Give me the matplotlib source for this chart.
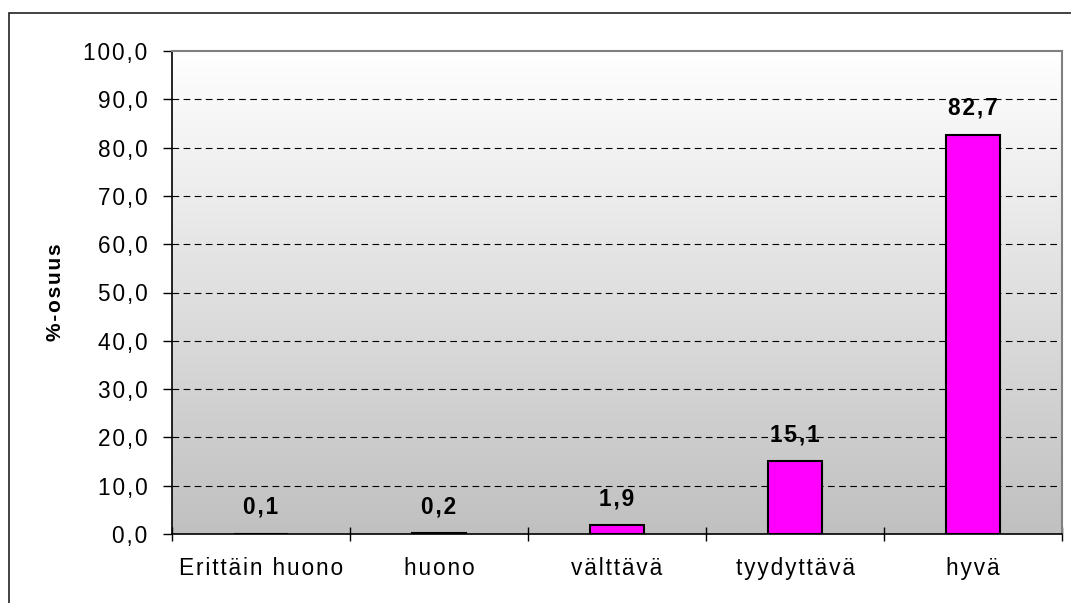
import numpy as np
import matplotlib.pyplot as plt
from matplotlib.colors import LinearSegmentedColormap
from matplotlib.patches import Rectangle

# ------------------------------
# Data
# ------------------------------
categories = ["Erittäin huono", "huono", "välttävä", "tyydyttävä", "hyvä"]
shares = [0.1, 0.2, 1.9, 15.1, 82.7]
y_ticks = [0, 10, 20, 30, 40, 50, 60, 70, 80, 90, 100]

plt.rcParams["font.family"] = ["Liberation Sans", "DejaVu Sans"]
FS = 16.3


def spaced(s):
    # old Excel charts draw text with a little letter spacing
    return "\u200a".join(s)


def fi_num(v):
    return spaced(f"{v:.1f}".replace(".", ","))


fig = plt.figure(figsize=(10.71, 6.03), dpi=100)
ax = fig.add_axes([172 / 1071, 1 - 534 / 603, (1062 - 172) / 1071, (534 - 51) / 603])

# outer chart border (only left/top visible)
fig.patches.append(Rectangle((9 / 1071, -0.2), 1.3, 1.2 - 13 / 603,
                             transform=fig.transFigure, fill=False,
                             edgecolor="#222222", linewidth=1.2))

# gradient background white (top) -> grey (bottom)
grad = np.linspace(0, 1, 256).reshape(-1, 1)
ax.imshow(grad, cmap=LinearSegmentedColormap.from_list("bg", ["#ffffff", "#c0c0c0"]),
          aspect="auto", extent=(-0.5, 4.5, 0, 100), origin="upper", zorder=0)

x = np.arange(len(categories))
ax.bar(x, shares, width=0.3, color="#ff00ff", edgecolor="black",
       linewidth=1.5, zorder=3)

for xi, v in zip(x, shares):
    ax.annotate(fi_num(v), (xi, v), xytext=(0, 10.5),
                textcoords="offset points", ha="center", va="bottom",
                fontsize=FS, fontweight="bold", zorder=4)

ax.set_xlim(-0.5, 4.5)
ax.set_ylim(0, 100)

ax.set_yticks(y_ticks)
ax.set_yticklabels([fi_num(t) for t in y_ticks], fontsize=FS)
for t in y_ticks[1:-1]:
    ax.axhline(t, color="black", linestyle=(0, (6, 4)), linewidth=0.8, zorder=1)

ax.set_xticks(np.arange(-0.5, 5, 1))
ax.set_xticklabels([])
ax.set_xticks(x, minor=True)
ax.set_xticklabels([spaced(c) for c in categories], minor=True, fontsize=FS)
ax.tick_params(axis="x", which="major", direction="inout", length=10, width=1)
ax.tick_params(axis="x", which="minor", length=0, pad=16.5)
ax.tick_params(axis="y", direction="out", length=6.5, width=1, pad=11)

ax.set_ylabel(spaced("%-osuus"), fontsize=15, fontweight="bold", labelpad=13)

for side in ("top", "right"):
    ax.spines[side].set_color("#808080")
    ax.spines[side].set_linewidth(1.5)
for side in ("left", "bottom"):
    ax.spines[side].set_color("black")
    ax.spines[side].set_linewidth(1.2)

fig.savefig("out.png", dpi=100)
